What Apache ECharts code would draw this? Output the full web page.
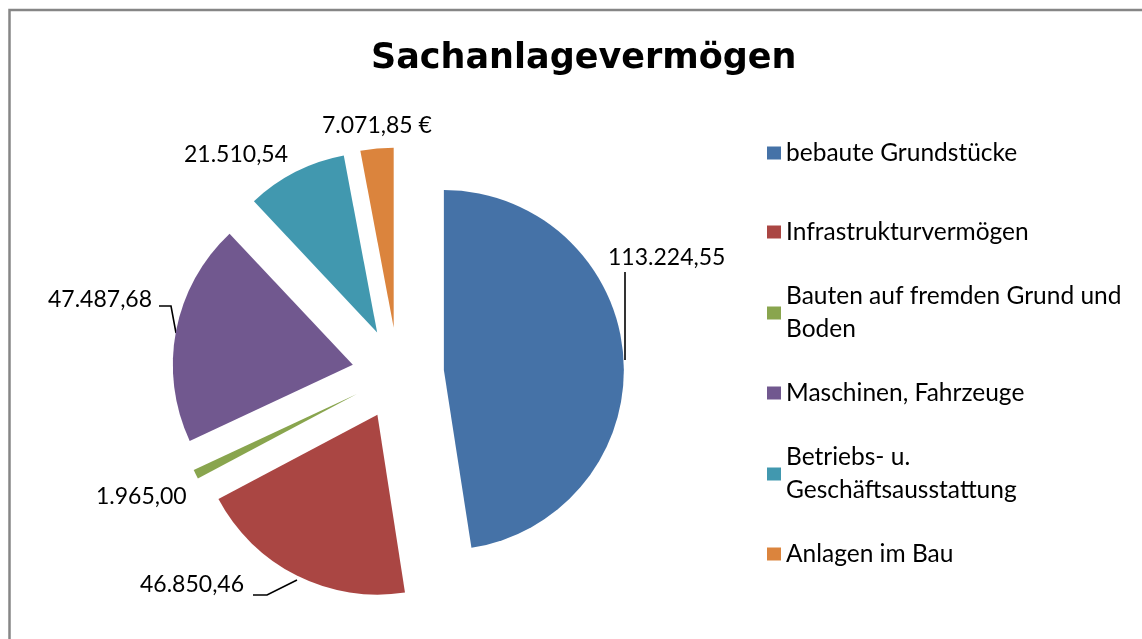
<!DOCTYPE html>
<html>
<head>
<meta charset="utf-8">
<script src="https://cdn.jsdelivr.net/npm/echarts@6/dist/echarts.min.js"></script>
<style>
  html, body { margin: 0; padding: 0; background: #fff; }
  #chart { width: 1142px; height: 639px; }
</style>
</head>
<body>
<div id="chart"></div>
<script>
// Sachanlagevermögen - Werte in EUR
const categories = [
  'bebaute Grundstücke',
  'Infrastrukturvermögen',
  'Bauten auf fremden Grund und Boden',
  'Maschinen, Fahrzeuge',
  'Betriebs- u. Geschäftsausstattung',
  'Anlagen im Bau'
]
const values = [113224.55, 46850.46, 1965.00, 47487.68, 21510.54, 7071.85]
const valueSuffix = ['', '', '', '', '', ' €']
const colors = ['#4572A7', '#AA4643', '#89A54E', '#71588F', '#4198AF', '#DB843D']

const FONT = 'Lato'
const FS = 23

// Datenbeschriftungen: links, Mitte, Führungslinie (wie in Excel manuell verschoben)
const labelPos = [
  [608, 258, [[625, 360], [625, 272]]],
  [140, 585, [[297, 580], [267, 595], [253, 595]]],
  [96, 497, null],
  [48, 300, [[176, 333], [171, 306], [159, 306]]],
  [184, 155, null],
  [322, 126, null]
]
// Legende: Mitte der Markierung, zweizeilig?
const legendRows = [
  [153, false], [232, false], [313, true], [393, false], [474, true], [554, false]
]
const legendWrap = {
  'Bauten auf fremden Grund und Boden': 'Bauten auf fremden Grund und\nBoden',
  'Betriebs- u. Geschäftsausstattung': 'Betriebs- u.\nGeschäftsausstattung'
}

function fmtDE(v) {
  const parts = v.toFixed(2).split('.')
  parts[0] = parts[0].replace(/\B(?=(\d{3})+(?!\d))/g, '.')
  return parts[0] + ',' + parts[1]
}

const chart = echarts.init(document.getElementById('chart'), null, { renderer: 'canvas' })

const legends = categories.map((name, i) => {
  const twoLines = legendRows[i][1]
  return {
    left: 767,
    top: legendRows[i][0] - (twoLines ? 49.5 : 16.5),
    padding: 0,
    orient: 'vertical',
    icon: 'rect',
    itemWidth: 14,
    itemHeight: 13,
    selectedMode: false,
    data: [name],
    formatter: n => legendWrap[n] || n,
    textStyle: {
      fontFamily: FONT,
      fontSize: 24.5,
      color: '#000',
      lineHeight: 33,
      padding: twoLines ? [33, 0, 0, 0] : 0
    }
  }
})

const graphics = [
  {
    type: 'rect',
    shape: { x: 9.5, y: 10, width: 1180, height: 680 },
    style: { fill: 'none', stroke: '#868686', lineWidth: 2.5 },
    silent: true
  }
]
values.forEach((v, i) => {
  const p = labelPos[i]
  graphics.push({
    type: 'text',
    x: p[0],
    y: p[1],
    silent: true,
    style: {
      text: fmtDE(v) + valueSuffix[i],
      fontFamily: FONT,
      fontSize: FS,
      fill: '#000',
      align: 'left',
      verticalAlign: 'middle'
    }
  })
  if (p[2]) {
    graphics.push({
      type: 'polyline',
      silent: true,
      shape: { points: p[2] },
      style: { stroke: '#000', lineWidth: 1.6, fill: null }
    })
  }
})

const option = {
  animation: false,
  color: colors,
  title: {
    text: 'Sachanlagevermögen',
    left: 371,
    top: 41,
    padding: 0,
    textStyle: {
      fontFamily: 'DejaVu Sans',
      fontSize: 35,
      fontWeight: 'bold',
      color: '#000'
    }
  },
  legend: legends,
  graphic: graphics,
  series: [
    {
      type: 'pie',
      center: [398, 373.5],
      radius: 180,
      startAngle: 90,
      clockwise: true,
      selectedMode: 'multiple',
      selectedOffset: 46,
      emphasis: { disabled: true },
      itemStyle: { borderWidth: 0 },
      label: { show: false },
      labelLine: { show: false },
      data: categories.map((name, i) => ({
        name: name,
        value: values[i],
        selected: true
      }))
    }
  ]
}

chart.setOption(option)
</script>
</body>
</html>
